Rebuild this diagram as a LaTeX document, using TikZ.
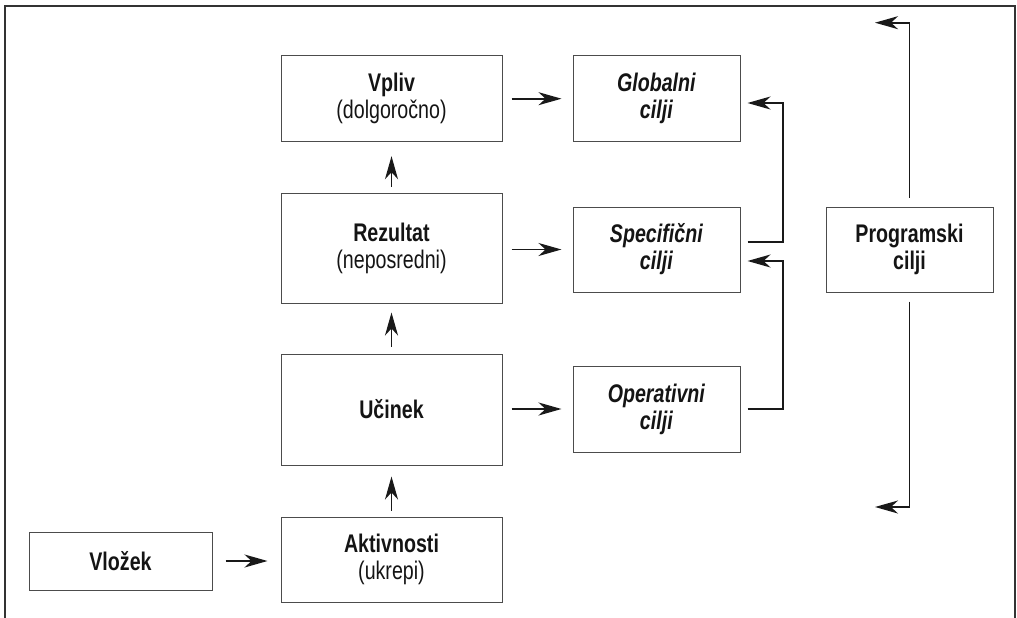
\documentclass[tikz,border=0pt]{standalone}
\usepackage{fontspec}
\setmainfont{Liberation Sans}[FakeStretch=0.77]
\usetikzlibrary{arrows.meta}
\begin{document}
\begin{tikzpicture}[x=1pt,y=-1pt,
  box/.style={draw=black!70,line width=1pt,rectangle,align=center,
    font=\fontsize{25.5}{27}\selectfont,text=black!92,inner sep=0pt},
  conn/.style={draw=black!90,line width=1.8pt},
  arr/.style={conn,-{Stealth[length=23pt,width=13pt,inset=7pt]}},
  frame/.style={draw=black!80,line width=1.8pt}]
\useasboundingbox (0,0) rectangle (1017,618);
% outer frame, open at the bottom
\draw[frame] (5,618) -- (5,6) -- (1015,6) -- (1015,618);

% left column
\node[box,minimum width=221pt,minimum height=86pt]  (vpliv) at (391.5,98.7)
  {\textbf{Vpliv}\\(dolgoročno)};
\node[box,minimum width=221pt,minimum height=110pt] (rez)   at (391.5,248)
  {\textbf{Rezultat}\\(neposredni)};
\node[box,minimum width=221pt,minimum height=111pt] (ucin)  at (391.5,409.5)
  {\textbf{Učinek}};
\node[box,minimum width=221pt,minimum height=85pt]  (akt)   at (391.5,559.5)
  {\textbf{Aktivnosti}\\(ukrepi)};
\node[box,minimum width=183pt,minimum height=58pt]  (vloz)  at (120.5,561)
  {\textbf{Vložek}};

% goals column
\node[box,minimum width=167pt,minimum height=86pt] (glob) at (656.5,98.7)
  {\textbf{\itshape Globalni}\\\textbf{\itshape cilji}};
\node[box,minimum width=167pt,minimum height=85pt] (spec) at (656.5,249.5)
  {\textbf{\itshape Specifični}\\\textbf{\itshape cilji}};
\node[box,minimum width=167pt,minimum height=86pt] (oper) at (656.5,409)
  {\textbf{\itshape Operativni}\\\textbf{\itshape cilji}};

% programme goals
\node[box,minimum width=167pt,minimum height=85pt] (prog) at (909.5,249.5)
  {\textbf{Programski}\\\textbf{cilji}};

% horizontal flows
\draw[arr,shorten <=13pt,shorten >=13pt] (vloz) -- (akt.west |- vloz);
\draw[arr,shorten <=9pt,shorten >=11pt] (vpliv) -- (glob);
\draw[arr,shorten <=9pt,shorten >=11pt] (rez.east |- spec) -- (spec);
\draw[arr,shorten <=9pt,shorten >=11pt] (ucin.east |- oper) -- (oper);

% vertical flows
\draw[arr,shorten <=6pt,shorten >=14pt] (rez.north) -- (vpliv.south);
\draw[arr,shorten <=7pt,shorten >=9pt] (ucin.north) -- (rez.south);
\draw[arr,shorten <=6pt,shorten >=11pt] (akt.north) -- (ucin.south);

% feedback brackets
\coordinate (b1) at (783,0);
\draw[arr,shorten <=7pt,shorten >=7pt]
  ([yshift=7.5pt]spec.east) -- ([yshift=7.5pt]spec.east -| b1)
  |- ([yshift=-4.3pt]glob.east);
\draw[arr,shorten <=7pt,shorten >=7pt]
  (oper.east) -- (oper.east -| b1)
  |- ([yshift=-11.5pt]spec.east);

% programme goal spans
\coordinate (ptop) at (875,22.7);
\coordinate (pbot) at (875,507);
\draw[arr,shorten <=9pt] (prog.north) -- (prog.north |- ptop) -- (ptop);
\draw[arr,shorten <=9pt] (prog.south) -- (prog.south |- pbot) -- (pbot);
\end{tikzpicture}
\end{document}
